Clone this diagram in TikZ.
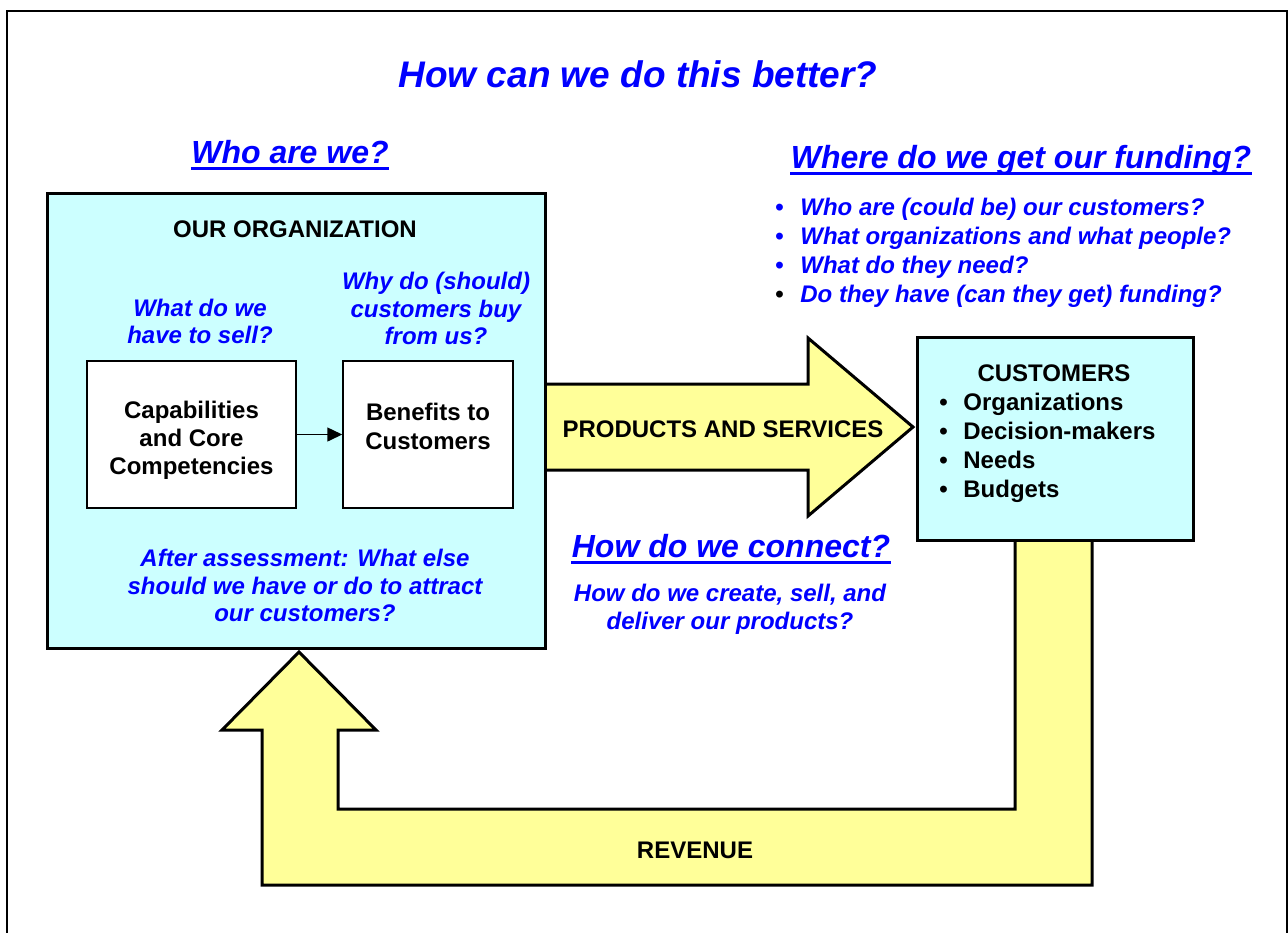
\documentclass[tikz,border=0pt]{standalone}
\usepackage{fontspec}
\setmainfont{Liberation Sans}
\usetikzlibrary{arrows.meta}
\definecolor{qblue}{RGB}{0,0,255}
\definecolor{qcyan}{RGB}{204,255,255}
\definecolor{qyellow}{RGB}{255,255,153}
\begin{document}
\begin{tikzpicture}[x=0.5pt,y=-0.5pt,
  bigbox/.style={draw, line width=1.5pt, fill=qcyan, inner sep=0pt},
  smallbox/.style={draw, line width=0.75pt, fill=white, inner sep=0pt},
  fatarrow/.style={draw, line width=1.5pt, fill=qyellow, line join=miter},
  bluetxt/.style={text=qblue, align=center, inner sep=0pt},
  blacktxt/.style={text=black, align=center, inner sep=0pt},
  heading/.style={text=qblue, font=\fontsize{16}{19}\selectfont\bfseries\itshape, inner sep=0pt, anchor=base},
  uline/.style={qblue, line width=1.5pt}]
\useasboundingbox (0,0) rectangle (1288,932);
% outer frame
\draw[line width=0.9pt] (7,945) -- (7,11) -- (1287,11) -- (1287,945);
% fat arrows
\draw[fatarrow] (545,384) -- (808,384) -- (808,338) -- (913,427) -- (808,516) -- (808,470) -- (545,470) -- cycle;
\draw[fatarrow] (1015,540) -- (1015,809) -- (338,809) -- (338,730) -- (376,730) -- (299,652) -- (222,730) -- (262,730) -- (262,885) -- (1092,885) -- (1092,540) -- cycle;
% boxes
\node[bigbox, minimum width=249pt, minimum height=227.5pt] (org) at (296,420.5) {};
\node[bigbox, minimum width=138pt, minimum height=101.5pt] (cust) at (1055,438.5) {};
\node[smallbox, minimum width=104.5pt, minimum height=73.5pt] (cap) at (191.5,434.5) {};
\node[smallbox, minimum width=85pt, minimum height=73.5pt] (ben) at (428,434.5) {};
\draw[line width=0.75pt, -{Triangle[length=7.5pt,width=7pt]}] (cap) -- (ben);
% headings
\node[heading, font=\fontsize{18.5}{22}\selectfont\bfseries\itshape] (title) at (638,87) {How can we do this better?};
\node[heading] (who) at (290,163) {Who are we?};
\draw[uline] ([yshift=-2.5pt]who.base west) -- ([yshift=-2.5pt]who.base east);
\node[heading] (where) at (1021,168) {Where do we get our funding?};
\draw[uline] ([yshift=-2.5pt]where.base west) -- ([yshift=-2.5pt]where.base east);
\node[heading] (connect) at (731,557) {How do we connect?};
\draw[uline] ([yshift=-2.5pt]connect.base west) -- ([yshift=-2.5pt]connect.base east);
% funding list
\node[bluetxt, align=left, anchor=west, font=\fontsize{12}{14.35}\selectfont\bfseries\itshape] (fundlist) at (775,252.8)
  {\makebox[12.5pt][l]{\upshape\textbullet}Who are (could be) our customers?\\
   \makebox[12.5pt][l]{\upshape\textbullet}What organizations and what people?\\
   \makebox[12.5pt][l]{\upshape\textbullet}What do they need?\\
   \makebox[12.5pt][l]{\upshape\color{black}\textbullet}Do they have (can they get) funding?};
% organization texts
\node[blacktxt, anchor=base, font=\fontsize{12}{14}\selectfont\bfseries] (orgtitle) at (295,237) {OUR ORGANIZATION};
\node[bluetxt, font=\fontsize{12}{13.25}\selectfont\bfseries\itshape] (sell) at (200,321.5) {What do we\\have to sell?};
\node[bluetxt, font=\fontsize{12}{13.75}\selectfont\bfseries\itshape] (why) at (436,308.75) {Why do (should)\\customers buy\\from us?};
\node[blacktxt, font=\fontsize{12}{14}\selectfont\bfseries] (captxt) at (191.5,440) {Capabilities\\and Core\\Competencies};
\node[blacktxt, font=\fontsize{12}{14.5}\selectfont\bfseries] (bentxt) at (428,426.75) {Benefits to\\Customers};
\node[bluetxt, font=\fontsize{12}{13.75}\selectfont\bfseries\itshape] (after) at (305,585.5) {After assessment: What else\\should we have or do to attract\\our customers?};
% arrow labels
\node[blacktxt, anchor=base, font=\fontsize{12}{14}\selectfont\bfseries] (prod) at (723,437) {PRODUCTS AND SERVICES};
\node[blacktxt, anchor=base, font=\fontsize{12}{14}\selectfont\bfseries] (rev) at (695,858.5) {REVENUE};
\node[bluetxt, font=\fontsize{12}{14}\selectfont\bfseries\itshape] (create) at (730,609.75) {How do we create, sell, and\\deliver our products?};
% customers texts
\node[blacktxt, anchor=base, font=\fontsize{12}{14}\selectfont\bfseries] (custtitle) at (1054,381) {CUSTOMERS};
\node[blacktxt, align=left, anchor=west, font=\fontsize{12}{14.5}\selectfont\bfseries] (custlist) at (939,447.9)
  {\makebox[12pt][l]{\textbullet}Organizations\\
   \makebox[12pt][l]{\textbullet}Decision-makers\\
   \makebox[12pt][l]{\textbullet}Needs\\
   \makebox[12pt][l]{\textbullet}Budgets};
\end{tikzpicture}
\end{document}
